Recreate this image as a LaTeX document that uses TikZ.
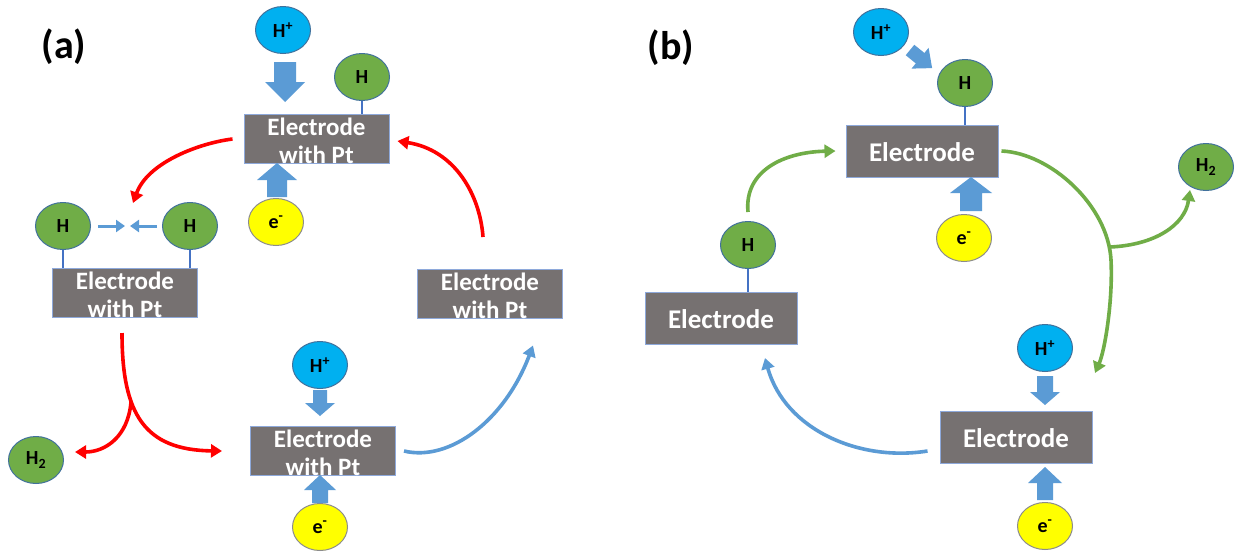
\documentclass[tikz,border=0pt]{standalone}
\usepackage{fontspec}
\setmainfont{Carlito}
\usetikzlibrary{arrows.meta,shapes.geometric}
\definecolor{boxgray}{HTML}{767171}
\definecolor{boxline}{HTML}{8EA9DB}
\definecolor{hcyan}{HTML}{00B0F0}
\definecolor{hgreen}{HTML}{70AD47}
\definecolor{ring}{HTML}{41719C}
\definecolor{eyellow}{HTML}{FFFF00}
\definecolor{eline}{HTML}{8C8C8C}
\definecolor{barrow}{HTML}{5B9BD5}
\definecolor{stickc}{HTML}{4472C4}
\definecolor{redc}{HTML}{FF0000}
\definecolor{greenc}{HTML}{70AD47}
\newcommand\BlkV[6]{\fill[barrow] ({#1-#5},#2) -- ({#1-#5},#3) -- ({#1-#6},#3) -- (#1,#4) -- ({#1+#6},#3) -- ({#1+#5},#3) -- ({#1+#5},#2) -- cycle;}
\begin{document}
\begin{tikzpicture}[x=1pt,y=-1pt,
  box/.style={rectangle, fill=boxgray, draw=boxline, line width=1pt, inner sep=0pt},
  boxa/.style={box, minimum width=145pt, minimum height=49pt},
  boxb/.style={box, minimum width=152pt, minimum height=52pt},
  btext/.style={text=white, font=\fontsize{25}{28}\selectfont\bfseries, align=center, inner sep=0pt},
  btextb/.style={btext, font=\fontsize{27}{30}\selectfont\bfseries},
  ball/.style={ellipse, minimum width=55pt, minimum height=47pt, inner sep=0pt, line width=1pt, font=\fontsize{20}{22}\selectfont\bfseries},
  hp/.style={ball, fill=hcyan, draw=ring},
  hg/.style={ball, fill=hgreen, draw=ring},
  ey/.style={ball, fill=eyellow, draw=eline},
  stick/.style={draw=stickc, line width=1.2pt},
  redarr/.style={draw=redc, line width=3.6pt, -{Triangle[length=11pt,width=13pt]}},
  bluearr/.style={draw=barrow, line width=3.6pt, -{Triangle[length=11pt,width=13pt]}},
  greenarr/.style={draw=greenc, line width=3.6pt, -{Triangle[length=11pt,width=13pt]}},
  smallarr/.style={draw=barrow, line width=3pt, -{Triangle[length=9pt,width=12pt]}},
  plabel/.style={font=\fontsize{40}{42}\selectfont\bfseries, inner sep=0pt}
]
\fill[white] (0,0) rectangle (1239,552);
\useasboundingbox (0,0) rectangle (1239,552);

% ---------------- panel (a) ----------------
\node[plabel] (la) at (64,47) {(a)};

\node[boxa] (tA) at (316.5,139) {};
\node[boxa] (lA) at (125,293) {};
\node[boxa] (rA) at (490,293.5) {};
\node[boxa] (bA) at (323,451) {};

\node[hp] (hpA1) at (283,30) {H\textsuperscript{+}};
\node[hg] (hA1) at (362,77) {H};
\node[ey] (eA1) at (276,222) {e\textsuperscript{-}};
\node[hg] (hA2) at (63,226) {H};
\node[hg] (hA3) at (190,226) {H};
\node[hp] (hpA2) at (320,365) {H\textsuperscript{+}};
\node[ey] (eA2) at (320,527) {e\textsuperscript{-}};
\node[hg] (h2A) at (36,460) {H\textsubscript{2}};

\draw[stick] (hA1.south) -- (hA1.south |- tA.north);
\draw[stick] (hA2.south) -- (hA2.south |- lA.north);
\draw[stick] (hA3.south) -- (hA3.south |- lA.north);

\BlkV{285}{62}{82}{102}{11}{20}
\BlkV{277}{197}{180}{163}{10}{20}
\BlkV{320}{390}{403}{416}{7}{15}
\BlkV{320}{503}{490}{475}{8}{16}

\node[btext] (tAt) at (316.5,141) {Electrode\\with Pt};
\node[btext] (lAt) at (125,295) {Electrode\\with Pt};
\node[btext] (rAt) at (490,295.5) {Electrode\\with Pt};
\node[btext] (bAt) at (323,453) {Electrode\\with Pt};

\draw[smallarr] ([xshift=7pt]hA2.east) -- ([xshift=34pt]hA2.east);
\draw[smallarr] ([xshift=-5pt]hA3.west) -- ([xshift=-32pt]hA3.west);

\coordinate (ca1) at (133,203);
\coordinate (ca2) at (483,237);
\coordinate (ca3) at (122,333);
\coordinate (ca4) at (131,402);
\draw[redarr] ([xshift=-11pt]tA.west) .. controls (200,143) and (148,162) .. (ca1);
\draw[redarr] (ca2) .. controls (480,195) and (455,150) .. ([xshift=8pt,yshift=-2pt]tA.east);
\draw[redarr] (ca3) .. controls (122,415) and (145,450) .. ([xshift=-28pt]bA.west);
\draw[redarr] (ca4) .. controls (128,437) and (105,452) .. ([xshift=11pt,yshift=8pt]h2A.east);
\draw[bluearr] ([xshift=8pt]bA.east) .. controls (450,462) and (505,420) .. ([xshift=43pt,yshift=-27pt]rA.south);

% ---------------- panel (b) ----------------
\node[plabel] (lb) at (671,48) {(b)};

\node[boxb] (tB) at (922,151) {};
\node[boxb] (lB) at (721,318) {};
\node[boxb] (bB) at (1016,437) {};

\node[hp] (hpB1) at (881,32) {H\textsuperscript{+}};
\node[hg] (hB1) at (965,83) {H};
\node[ey] (eB1) at (964,238) {e\textsuperscript{-}};
\node[hg] (hB2) at (748,245) {H};
\node[hg] (h2B) at (1206,167) {H\textsubscript{2}};
\node[hp] (hpB2) at (1045,348) {H\textsuperscript{+}};
\node[ey] (eB2) at (1045,526) {e\textsuperscript{-}};

\draw[stick] (hB1.south) -- (hB1.south |- tB.north);
\draw[stick] (hB2.south) -- (hB2.south |- lB.north);

\fill[barrow] (905.7,55.2) -- (915.8,63.4) -- (911.5,68.6) -- (932.1,68.1) -- (928.6,47.8) -- (924.4,53.0) -- (914.3,44.8) -- cycle;
\BlkV{971}{211}{193}{177}{11}{21}
\BlkV{1045}{376}{392}{405}{8}{15}
\BlkV{1045}{500}{483}{467}{8}{17}

\node[btextb] (tBt) at (922,152) {Electrode};
\node[btextb] (lBt) at (721,319) {Electrode};
\node[btextb] (bBt) at (1016,438) {Electrode};

\coordinate (cb1) at (1111,260);
\coordinate (cb2) at (1110,247);
\coordinate (cb3) at (1095,373);
\coordinate (cb4) at (1190,190);
\coordinate (cb5) at (765,358);
\draw[greenarr] ([yshift=9pt]hB2.north) .. controls (744,170) and (785,152) .. ([xshift=-10pt]tB.west);
\draw[draw=greenc, line width=3.6pt] ([xshift=3pt]tB.east) .. controls (1050,153) and (1108,205) .. (cb1);
\draw[greenarr] (cb1) .. controls (1113,300) and (1105,350) .. (cb3);
\draw[greenarr] (cb2) .. controls (1155,245) and (1185,225) .. (cb4);
\draw[bluearr] ([xshift=-12pt,yshift=-14pt]bB.west) .. controls (860,462) and (785,430) .. (cb5);
\end{tikzpicture}
\end{document}
